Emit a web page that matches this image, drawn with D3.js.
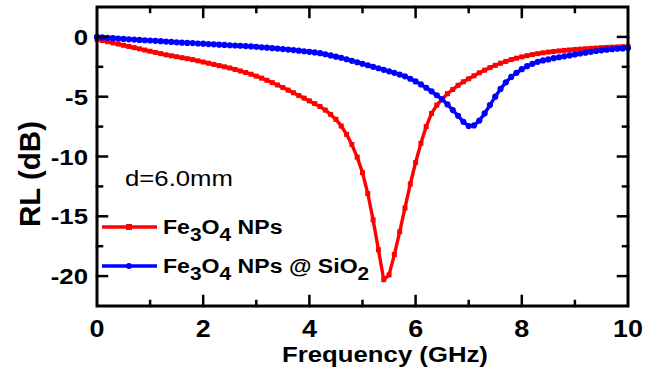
<!DOCTYPE html>
<html>
<head>
<meta charset="utf-8">
<script src="https://cdn.jsdelivr.net/npm/d3@7"></script>
<style>
  body { margin: 0; background: #fff; }
  svg { display: block; font-family: "Liberation Sans", Arial, sans-serif; }
</style>
</head>
<body>
<script>

const freq = [0, 0.1, 0.2, 0.3, 0.4, 0.5, 0.6, 0.7, 0.8, 0.9,
  1, 1.1, 1.2, 1.3, 1.4, 1.5, 1.6, 1.7, 1.8, 1.9,
  2, 2.1, 2.2, 2.3, 2.4, 2.5, 2.6, 2.7, 2.8, 2.9,
  3, 3.1, 3.2, 3.3, 3.4, 3.5, 3.6, 3.7, 3.8, 3.9,
  4, 4.1, 4.2, 4.3, 4.4, 4.5, 4.6, 4.7, 4.8, 4.9,
  5, 5.1, 5.2, 5.3, 5.4, 5.5, 5.6, 5.7, 5.8, 5.9,
  6, 6.1, 6.2, 6.3, 6.4, 6.5, 6.6, 6.7, 6.8, 6.9,
  7, 7.1, 7.2, 7.3, 7.4, 7.5, 7.6, 7.7, 7.8, 7.9,
  8, 8.1, 8.2, 8.3, 8.4, 8.5, 8.6, 8.7, 8.8, 8.9,
  9, 9.1, 9.2, 9.3, 9.4, 9.5, 9.6, 9.7, 9.8, 9.9, 10];

// Fe3O4 NPs
const rlFe3O4 = [-0.2, -0.3, -0.4, -0.5, -0.6, -0.7, -0.8, -0.9, -1.0, -1.1,
  -1.2, -1.3, -1.4, -1.5, -1.58, -1.66, -1.74, -1.82, -1.9, -2.0,
  -2.1, -2.2, -2.3, -2.4, -2.5, -2.6, -2.72, -2.85, -2.98, -3.12,
  -3.28, -3.45, -3.63, -3.82, -4.02, -4.23, -4.45, -4.67, -4.9, -5.12,
  -5.35, -5.58, -5.82, -6.12, -6.48, -6.9, -7.45, -8.15, -9.0, -10.05,
  -11.35, -13.1, -15.3, -17.8, -20.3, -19.9, -18.2, -16.3, -14.3, -12.3,
  -10.5, -8.9, -7.5, -6.4, -5.7, -5.2, -4.75, -4.4, -4.05, -3.75,
  -3.5, -3.25, -3.0, -2.78, -2.57, -2.38, -2.2, -2.05, -1.9, -1.78,
  -1.67, -1.57, -1.48, -1.4, -1.33, -1.27, -1.22, -1.17, -1.13, -1.09,
  -1.05, -1.02, -0.99, -0.96, -0.93, -0.9, -0.88, -0.86, -0.84, -0.82, -0.8];

// Fe3O4 NPs @ SiO2
const rlSiO2 = [0, -0.04, -0.08, -0.11, -0.14, -0.17, -0.2, -0.22, -0.25, -0.28,
  -0.3, -0.33, -0.36, -0.39, -0.42, -0.45, -0.48, -0.5, -0.52, -0.55,
  -0.57, -0.6, -0.62, -0.65, -0.67, -0.7, -0.72, -0.74, -0.77, -0.8,
  -0.83, -0.87, -0.9, -0.94, -0.98, -1.02, -1.06, -1.1, -1.15, -1.2,
  -1.25, -1.3, -1.36, -1.45, -1.55, -1.65, -1.75, -1.87, -2.0, -2.12,
  -2.25, -2.37, -2.5, -2.62, -2.75, -2.88, -3.0, -3.15, -3.3, -3.5,
  -3.72, -3.97, -4.25, -4.55, -4.88, -5.22, -5.65, -6.12, -6.6, -7.1,
  -7.45, -7.4, -7.0, -6.4, -5.7, -5.0, -4.35, -3.8, -3.35, -3.0,
  -2.7, -2.45, -2.25, -2.08, -1.97, -1.88, -1.78, -1.7, -1.62, -1.55,
  -1.47, -1.39, -1.32, -1.25, -1.18, -1.12, -1.07, -1.03, -0.99, -0.96, -0.93];

const xTicks = [0, 2, 4, 6, 8, 10];
const xMinor = [1, 3, 5, 7, 9];
const yTicks = [0, -5, -10, -15, -20];
const yMinor = [-2.5, -7.5, -12.5, -17.5];

const seriesNames = ["Fe3O4 NPs", "Fe3O4 NPs @ SiO2"];
const seriesColors = ["#ff0000", "#0000ff"];

const width = 650, height = 374;
const STRETCH = 1.17; // the source picture is a bit wide

const x = d3.scaleLinear().domain([0, 10]).range([97, 628]);
const y = d3.scaleLinear().domain([-22.5, 2.5]).range([306, 7]);

const svg = d3.select("body").append("svg")
  .attr("width", width)
  .attr("height", height);

const series = [
  {name: seriesNames[0], color: seriesColors[0], values: rlFe3O4, marker: "square"},
  {name: seriesNames[1], color: seriesColors[1], values: rlSiO2, marker: "circle"}
];

const line = d3.line()
  .x(d => x(d[0]))
  .y(d => y(d[1]));

// curves
series.forEach(s => {
  const pts = freq.map((f, i) => [f, s.values[i]]);
  const g = svg.append("g").attr("class", "series");
  g.append("path")
    .datum(pts)
    .attr("d", line)
    .attr("fill", "none")
    .attr("stroke", s.color)
    .attr("stroke-width", 3.4)
    .attr("stroke-linejoin", "round");
  if (s.marker === "square") {
    g.selectAll("rect").data(pts).enter().append("rect")
      .attr("x", d => x(d[0]) - 2.5)
      .attr("y", d => y(d[1]) - 2.5)
      .attr("width", 5)
      .attr("height", 5)
      .attr("fill", s.color);
  } else {
    g.selectAll("circle").data(pts).enter().append("circle")
      .attr("cx", d => x(d[0]))
      .attr("cy", d => y(d[1]))
      .attr("r", 3.1)
      .attr("fill", s.color);
  }
});

// frame + ticks (all inward, mirrored on top/right)
const axisG = svg.append("g").attr("stroke", "#000").attr("stroke-linecap", "square");

axisG.append("rect")
  .attr("x", x(0)).attr("y", y(2.5))
  .attr("width", x(10) - x(0)).attr("height", y(-22.5) - y(2.5))
  .attr("fill", "none").attr("stroke-width", 3);

const tickX = (vals, len) => {
  axisG.selectAll(null).data(vals).enter().append("line")
    .attr("x1", d => x(d)).attr("x2", d => x(d))
    .attr("y1", y(-22.5)).attr("y2", y(-22.5) - len)
    .attr("stroke-width", 2.5);
  axisG.selectAll(null).data(vals).enter().append("line")
    .attr("x1", d => x(d)).attr("x2", d => x(d))
    .attr("y1", y(2.5)).attr("y2", y(2.5) + len)
    .attr("stroke-width", 2.5);
};
const tickY = (vals, len) => {
  axisG.selectAll(null).data(vals).enter().append("line")
    .attr("y1", d => y(d)).attr("y2", d => y(d))
    .attr("x1", x(0)).attr("x2", x(0) + len)
    .attr("stroke-width", 2.5);
  axisG.selectAll(null).data(vals).enter().append("line")
    .attr("y1", d => y(d)).attr("y2", d => y(d))
    .attr("x1", x(10)).attr("x2", x(10) - len)
    .attr("stroke-width", 2.5);
};
tickX(xTicks.slice(1, -1), 10);
tickX(xMinor, 5);
tickY(yTicks, 10);
tickY(yMinor, 5);

function label(px, py, txt, size, weight, anchor, sx) {
  return svg.append("text")
    .attr("transform", `translate(${px},${py}) scale(${sx || STRETCH},1)`)
    .attr("text-anchor", anchor || "start")
    .attr("font-size", size)
    .attr("font-weight", weight)
    .attr("fill", "#000")
    .text(txt);
}

xTicks.forEach(t => label(x(t), 337, t, 23, "bold", "middle"));
yTicks.forEach(t => label(88, y(t) + 8, t, 22, "bold", "end"));

label(385, 362, "Frequency (GHz)", 22, "bold", "middle");

svg.append("text")
  .attr("transform", `translate(40,174) rotate(-90) scale(1.18,${STRETCH})`)
  .attr("text-anchor", "middle")
  .attr("font-size", 25)
  .attr("font-weight", "bold")
  .text("RL (dB)");

label(125, 186, "d=6.0mm", 22, "normal", "start");

// legend
const legendY = [227, 266];
series.forEach((s, i) => {
  const ly = legendY[i];
  svg.append("line")
    .attr("x1", 102).attr("x2", 157)
    .attr("y1", ly).attr("y2", ly)
    .attr("stroke", s.color).attr("stroke-width", 3.4);
  if (s.marker === "square") {
    svg.append("rect").attr("x", 126).attr("y", ly - 3).attr("width", 6).attr("height", 6).attr("fill", s.color);
  } else {
    svg.append("circle").attr("cx", 129).attr("cy", ly).attr("r", 3).attr("fill", s.color);
  }
  const t = svg.append("text")
    .attr("transform", `translate(163,${ly + 7}) scale(1.1,1)`)
    .attr("font-size", 21)
    .attr("font-weight", "bold");
  // digits after element symbols become subscripts
  let down = false;
  s.name.split(/(\d)/).forEach(p => {
    if (!p) return;
    const sub = /^\d$/.test(p);
    const ts = t.append("tspan").text(p);
    if (sub) ts.attr("font-size", 19);
    if (sub && !down) ts.attr("dy", 7);
    if (!sub && down) ts.attr("dy", -7);
    down = sub;
  });
});

</script>
</body>
</html>
